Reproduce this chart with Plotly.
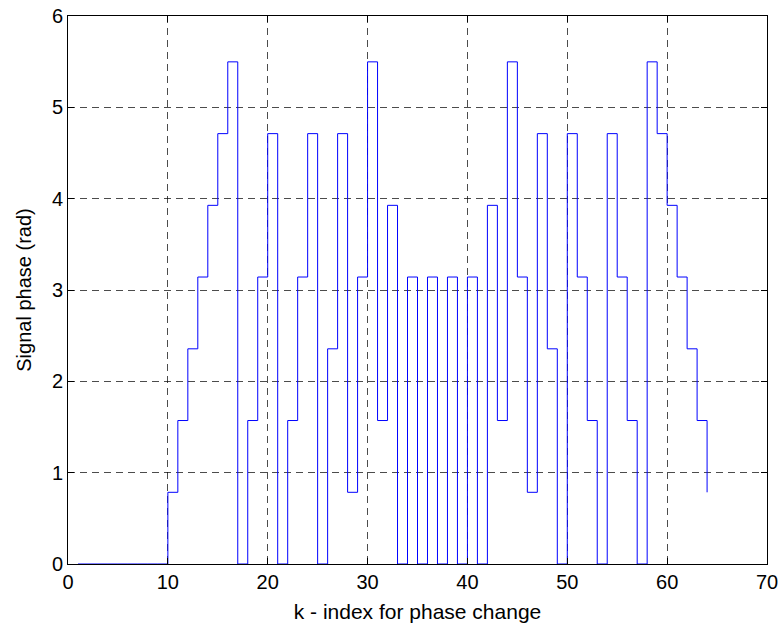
import plotly.graph_objects as go

# k index (1..64) and Frank-code phase values (rad)
k = list(range(1, 65))
phase = [
    0, 0, 0, 0, 0, 0, 0, 0,
    0, 0.785, 1.571, 2.356, 3.142, 3.927, 4.712, 5.498,
    0, 1.571, 3.142, 4.712, 0, 1.571, 3.142, 4.712,
    0, 2.356, 4.712, 0.785, 3.142, 5.498, 1.571, 3.927,
    0, 3.142, 0, 3.142, 0, 3.142, 0, 3.142,
    0, 3.927, 1.571, 5.498, 3.142, 0.785, 4.712, 2.356,
    0, 4.712, 3.142, 1.571, 0, 4.712, 3.142, 1.571,
    0, 5.498, 4.712, 3.927, 3.142, 2.356, 1.571, 0.785,
]
x_ticks = [0, 10, 20, 30, 40, 50, 60, 70]
y_ticks = [0, 1, 2, 3, 4, 5, 6]

fig = go.Figure()
fig.add_trace(go.Scatter(
    x=k, y=phase, mode="lines", line_shape="hv",
    line=dict(color="rgb(0,0,255)", width=1), showlegend=False,
))

font = dict(family="Liberation Sans, Arial, sans-serif", size=20, color="black")
axis_common = dict(
    showgrid=True, gridcolor="rgba(0,0,0,0.7)", griddash="7px,5px", gridwidth=1,
    zeroline=False, showline=True, linecolor="black", linewidth=1, mirror="ticks",
    ticks="inside", ticklen=6, tickcolor="black", tickfont=font, automargin=False,
    ticklabeloverflow="allow",
)
fig.update_xaxes(range=[0, 70], tickvals=x_ticks,
                 title=dict(text="k - index for phase change",
                            font=dict(family=font["family"], size=21, color="black"),
                            standoff=12),
                 **axis_common)
fig.update_yaxes(range=[0, 6], tickvals=y_ticks,
                 title=dict(text="Signal phase (rad)", font=font, standoff=14),
                 **axis_common)
fig.update_layout(
    width=779, height=631,
    margin=dict(l=68, r=12, t=16, b=67),
    plot_bgcolor="white", paper_bgcolor="white",
    font=font,
)
fig.write_html("out.html", config={"displayModeBar": False},
               post_script="document.body.style.margin='0';document.body.style.overflow='hidden';")
